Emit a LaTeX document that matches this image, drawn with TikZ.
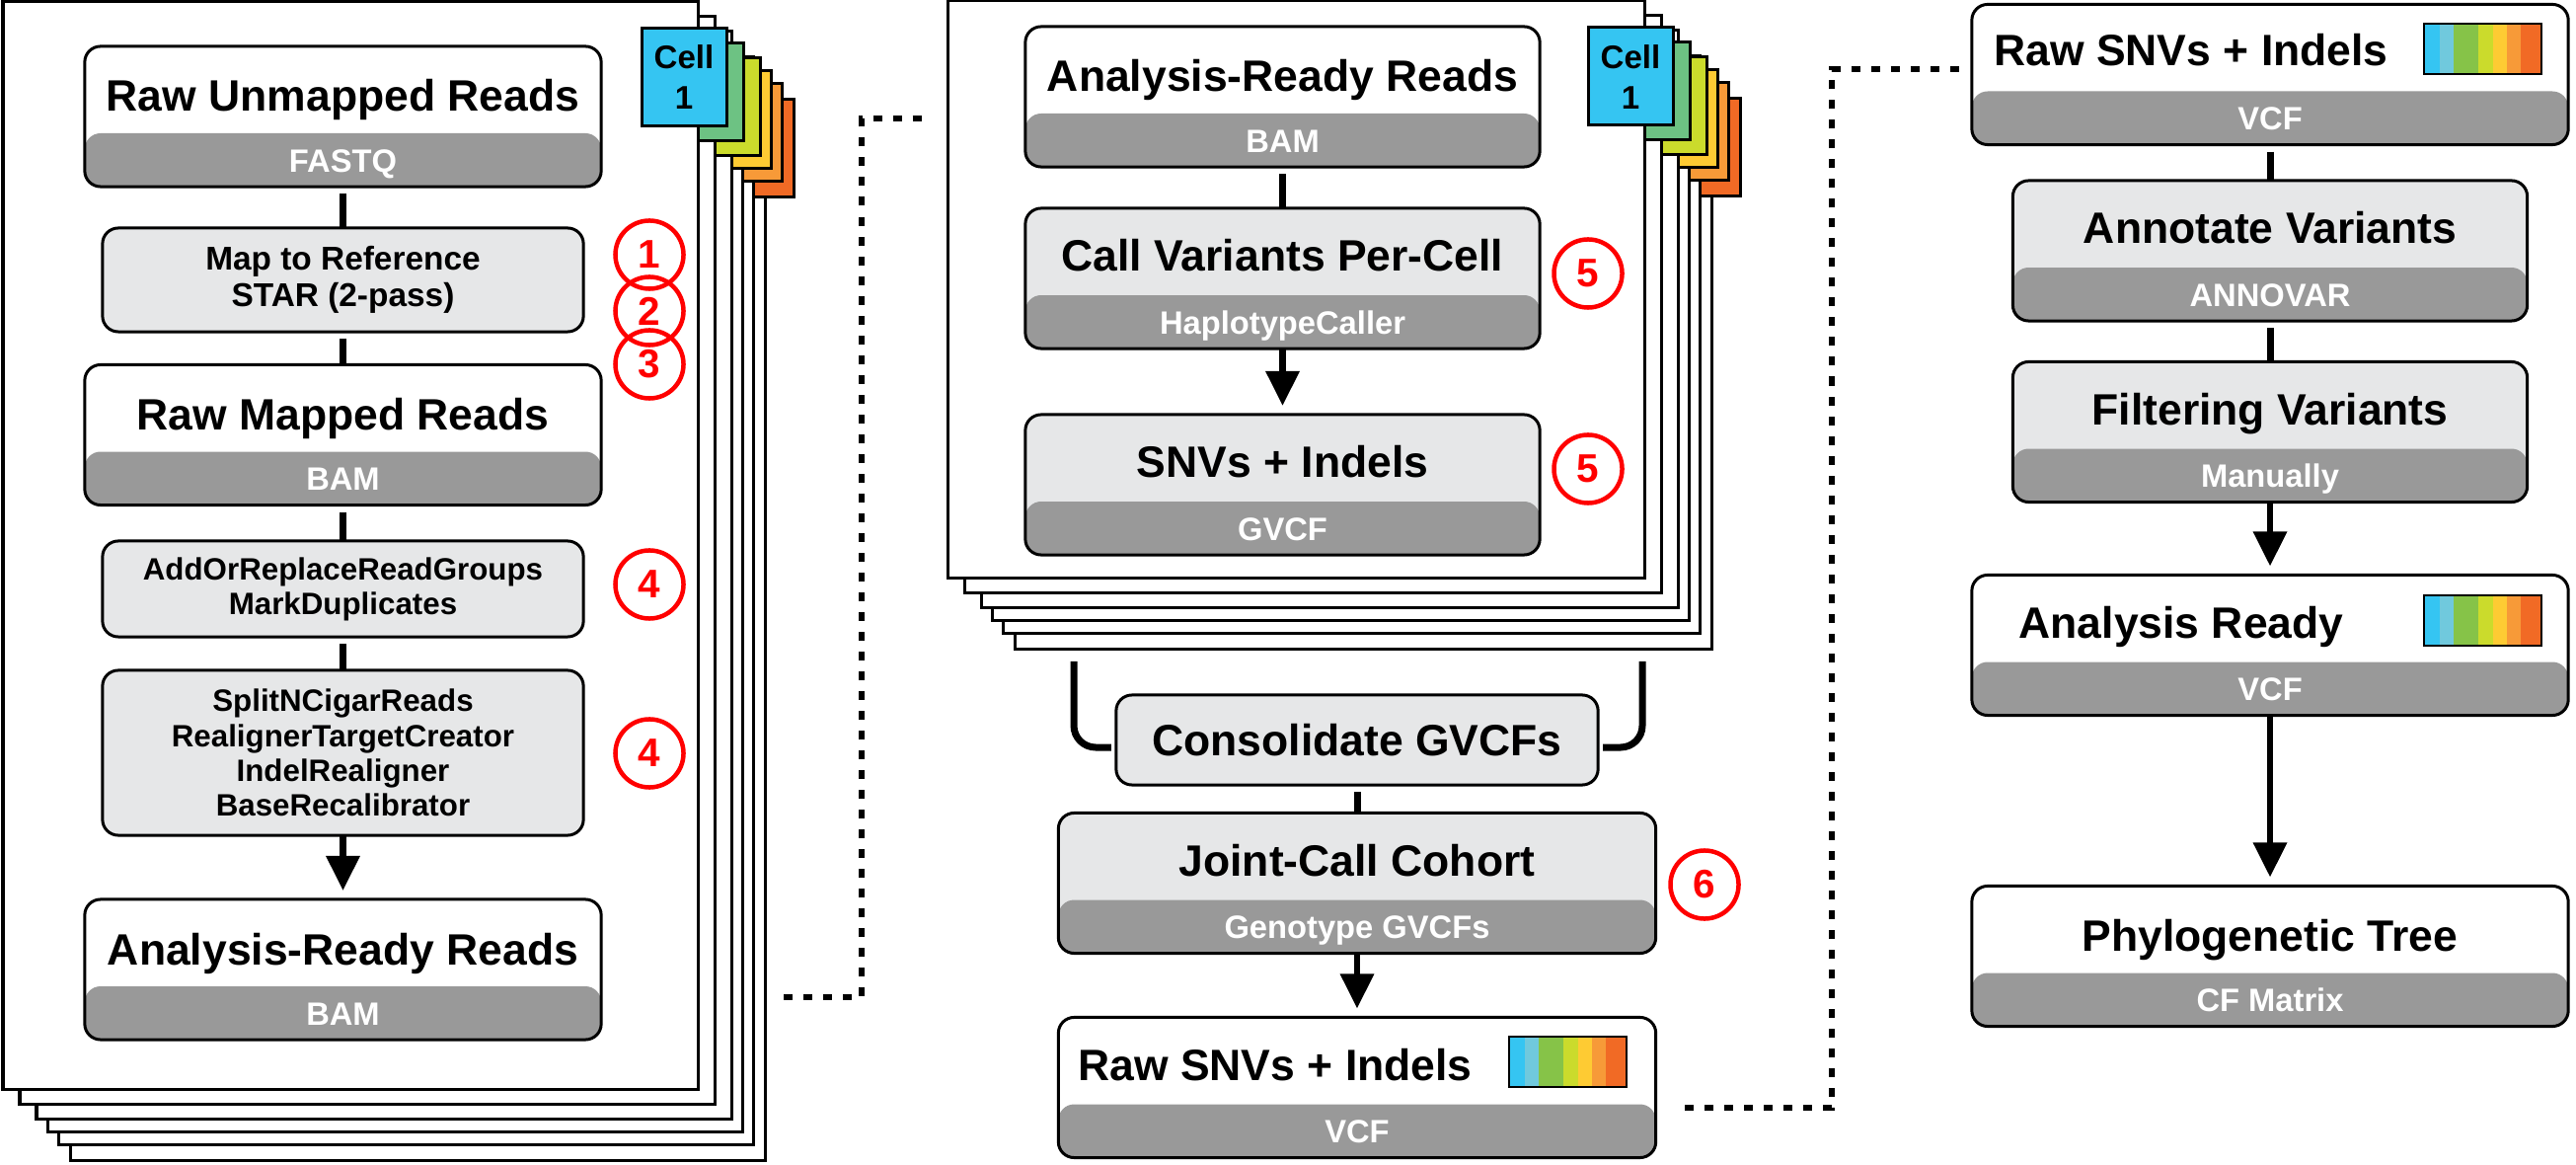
\documentclass[tikz,border=0pt]{standalone}
\usepackage{fontspec}
\setmainfont{Liberation Sans}
\usetikzlibrary{arrows.meta, calc}

\definecolor{CellBlue}{HTML}{35C5F2}
\definecolor{CellTeal}{HTML}{70C9DD}
\definecolor{CellGreen}{HTML}{6DC283}
\definecolor{StripGreen}{HTML}{86C348}
\definecolor{CellLime}{HTML}{CBDB2C}
\definecolor{CellYellow}{HTML}{FECB33}
\definecolor{CellOrange}{HTML}{F79A38}
\definecolor{CellRed}{HTML}{F16A25}
\definecolor{BandGray}{HTML}{999999}
\definecolor{StepGray}{HTML}{E6E7E8}
\definecolor{StepRed}{HTML}{FF0000}

\newcommand{\TitleFont}{\fontsize{12.65pt}{15pt}\selectfont\bfseries}
\newcommand{\BandFont}{\fontsize{9.3pt}{11pt}\selectfont\bfseries}
\newcommand{\StepFont}{\fontsize{8.9pt}{10pt}\selectfont\bfseries}
\newcommand{\CellFont}{\fontsize{9.4pt}{11.6pt}\selectfont\bfseries}
\newcommand{\NumFont}{\fontsize{11.5pt}{12pt}\selectfont\bfseries}

\tikzset{
  sheet/.style={draw, fill=white, line width=0.03cm},
  celltab/.style={draw, line width=0.03cm},
  celltext/.style={font=\CellFont, align=center, inner sep=0pt},
  boxbase/.style={draw=black, line width=0.03cm, rounded corners=0.16cm, inner sep=0pt, outer sep=0pt},
  grayband/.style={path picture={\fill[BandGray, rounded corners=0.16cm]
      ([yshift=-0.3cm]path picture bounding box.south west) rectangle
      ([yshift=0.54cm]path picture bounding box.south east);}},
  readbox/.style={boxbase, fill=white, minimum height=1.42cm, grayband},
  stepbox/.style={boxbase, fill=StepGray, font=\StepFont, align=center},
  toolbox/.style={boxbase, fill=StepGray, minimum height=1.42cm, grayband},
  titletext/.style={font=\TitleFont, inner sep=0pt, anchor=base},
  bandtext/.style={font=\BandFont, text=white, inner sep=0pt, anchor=base},
  stepnum/.style={circle, draw=StepRed, line width=0.045cm, minimum size=0.69cm, inner sep=0pt, text=StepRed, font=\NumFont},
  flowline/.style={line width=0.07cm, shorten <=0.07cm},
  arrowline/.style={line width=0.065cm, -{Triangle[width=0.33cm, length=0.35cm]}, shorten >=0.09cm},
  mergeline/.style={line width=0.07cm, rounded corners=0.22cm, shorten >=0.05cm},
  dotlink/.style={line width=0.055cm, dash pattern=on 0.09cm off 0.11cm},
  colorstrip/.pic={
    \fill[CellBlue] (2,2) rectangle (17,51);
    \fill[CellTeal] (17,2) rectangle (31,51);
    \fill[StripGreen] (31,2) rectangle (56,51);
    \fill[CellLime] (56,2) rectangle (71,51);
    \fill[CellYellow] (71,2) rectangle (85,51);
    \fill[CellOrange] (85,2) rectangle (99,51);
    \fill[CellRed] (99,2) rectangle (119,51);
    \draw[line width=0.025cm] (1,1) rectangle (120,52);
  }
}

\begin{document}
\begin{tikzpicture}[x=0.01cm, y=-0.01cm]
\useasboundingbox (0,0) rectangle (2610,1180);

% stacks of cells
\foreach \dx/\dy/\col in {68/72/CellRed, 56/56/CellOrange, 45/43/CellYellow, 34/30/CellLime, 17/15/CellGreen, 0/0/CellBlue}{
  \draw[sheet] ({3+\dx},{2+\dy}) rectangle ({707+\dx},{1103+\dy});
  \draw[celltab, fill=\col] ({650+\dx},{29+\dy}) rectangle ({736+\dx},{128+\dy});
  \draw[sheet] ({960+\dx},{1+\dy}) rectangle ({1666+\dx},{586+\dy});
  \draw[celltab, fill=\col] ({1609+\dx},{28+\dy}) rectangle ({1695+\dx},{127+\dy});
}
\node[celltext] (cellL) at (693,78) {Cell\\1};
\node[celltext] (cellM) at (1652,78) {Cell\\1};

% per-cell preprocessing
\node[readbox, minimum width=5.23cm] (unmapped) at (347.5,118) {};
\node[titletext] (unmappedT) at ([yshift=-0.66cm]unmapped.north) {Raw Unmapped Reads};
\node[bandtext] (unmappedB) at ([yshift=0.15cm]unmapped.south) {FASTQ};

\node[stepbox, font=\fontsize{9.5pt}{10.4pt}\selectfont\bfseries, minimum width=4.87cm, minimum height=1.05cm] (mapref) at (347.5,283.5) {Map to Reference\\STAR (2-pass)};

\node[readbox, minimum width=5.23cm] (mapped) at (347.5,440.5) {};
\node[titletext] (mappedT) at ([yshift=-0.66cm]mapped.north) {Raw Mapped Reads};
\node[bandtext] (mappedB) at ([yshift=0.15cm]mapped.south) {BAM};

\node[stepbox, minimum width=4.87cm, minimum height=0.97cm] (readgroups) at (347.5,596.5) {AddOrReplaceReadGroups\\MarkDuplicates};
\node[stepbox, minimum width=4.87cm, minimum height=1.67cm] (realign) at (347.5,762.5) {SplitNCigarReads\\RealignerTargetCreator\\IndelRealigner\\BaseRecalibrator};

\node[readbox, minimum width=5.23cm] (readyL) at (347.5,982) {};
\node[titletext] (readyLT) at ([yshift=-0.66cm]readyL.north) {Analysis-Ready Reads};
\node[bandtext] (readyLB) at ([yshift=0.15cm]readyL.south) {BAM};

\draw[flowline] (unmapped.south) -- (mapref.north);
\draw[flowline] (mapref.south) -- (mapped.north);
\draw[flowline] (mapped.south) -- (readgroups.north);
\draw[flowline] (readgroups.south) -- (realign.north);
\draw[arrowline] (realign.south) -- (readyL.north);

% variant calling
\node[readbox, minimum width=5.21cm] (readyM) at (1299.5,98) {};
\node[titletext] (readyMT) at ([yshift=-0.66cm]readyM.north) {Analysis-Ready Reads};
\node[bandtext] (readyMB) at ([yshift=0.15cm]readyM.south) {BAM};

\node[toolbox, minimum width=5.21cm] (callvar) at (1299.5,282) {};
\node[titletext] (callvarT) at ([yshift=-0.64cm]callvar.north) {Call Variants Per-Cell};
\node[bandtext] (callvarB) at ([yshift=0.15cm]callvar.south) {HaplotypeCaller};

\node[toolbox, minimum width=5.21cm] (gvcf) at (1299.5,491) {};
\node[titletext] (gvcfT) at ([yshift=-0.64cm]gvcf.north) {SNVs + Indels};
\node[bandtext] (gvcfB) at ([yshift=0.15cm]gvcf.south) {GVCF};

\node[stepbox, font=\TitleFont, minimum width=4.88cm, minimum height=0.91cm] (consol) at (1375,749.5) {Consolidate GVCFs};

\node[toolbox, minimum width=6.05cm] (joint) at (1375,894.5) {};
\node[titletext] (jointT) at ([yshift=-0.64cm]joint.north) {Joint-Call Cohort};
\node[bandtext] (jointB) at ([yshift=0.15cm]joint.south) {Genotype GVCFs};

\node[readbox, minimum width=6.05cm] (rawM) at (1375,1101.5) {};
\node[titletext] (rawMT) at (1292,1094) {Raw SNVs + Indels};
\node[bandtext] (rawMB) at ([yshift=0.15cm]rawM.south) {VCF};
\pic at (1528,1049) {colorstrip};

\coordinate (mergeL) at (1088,670);
\coordinate (mergeR) at (1664,670);
\draw[flowline] (readyM.south) -- (callvar.north);
\draw[arrowline] (callvar.south) -- (gvcf.north);
\draw[mergeline] (mergeL) |- ([yshift=-0.075cm]consol.west);
\draw[mergeline] (mergeR) |- ([yshift=-0.075cm]consol.east);
\draw[flowline] (consol.south) -- (joint.north);
\draw[arrowline] (joint.south) -- (rawM.north);

% annotation and tree
\node[readbox, minimum width=6.04cm] (rawR) at (2300,75.5) {};
\node[titletext] (rawRT) at (2220,67) {Raw SNVs + Indels};
\node[bandtext] (rawRB) at ([yshift=0.15cm]rawR.south) {VCF};
\pic at (2455,23) {colorstrip};

\node[toolbox, minimum width=5.21cm] (annot) at (2300,254) {};
\node[titletext] (annotT) at ([yshift=-0.64cm]annot.north) {Annotate Variants};
\node[bandtext] (annotB) at ([yshift=0.15cm]annot.south) {ANNOVAR};

\node[toolbox, minimum width=5.21cm] (filter) at (2300,437.5) {};
\node[titletext] (filterT) at ([yshift=-0.64cm]filter.north) {Filtering Variants};
\node[bandtext] (filterB) at ([yshift=0.15cm]filter.south) {Manually};

\node[readbox, minimum width=6.04cm] (readyR) at (2300,653.5) {};
\node[titletext] (readyRT) at (2210,647) {Analysis Ready};
\node[bandtext] (readyRB) at ([yshift=0.15cm]readyR.south) {VCF};
\pic at (2455,602) {colorstrip};

\node[readbox, minimum width=6.04cm] (tree) at (2300,968.5) {};
\node[titletext] (treeT) at ([yshift=-0.66cm]tree.north) {Phylogenetic Tree};
\node[bandtext] (treeB) at ([yshift=0.15cm]tree.south) {CF Matrix};

\draw[flowline] (rawR.south) -- (annot.north);
\draw[flowline] (annot.south) -- (filter.north);
\draw[arrowline] (filter.south) -- (readyR.north);
\draw[arrowline] (readyR.south) -- (tree.north);

% GATK steps
\node[stepnum] (num1) at (658,258) {1};
\node[stepnum] (num2) at (658,315) {2};
\node[stepnum] (num3) at (658,369) {3};
\node[stepnum] (num4a) at (658,592) {4};
\node[stepnum] (num4b) at (658,763) {4};
\node[stepnum] (num5a) at (1609,277) {5};
\node[stepnum] (num5b) at (1609,475) {5};
\node[stepnum] (num6) at (1727,896) {6};

% links between panels
\coordinate (dotL) at (794,1010);
\coordinate (dotLend) at (943,120);
\draw[dotlink] (dotL) -| (873,120) -- (dotLend);
\coordinate (dotM) at (1707,1122);
\coordinate (dotMend) at (1988,70);
\draw[dotlink] (dotM) -| (1856,70) -- (dotMend);
\end{tikzpicture}
\end{document}
